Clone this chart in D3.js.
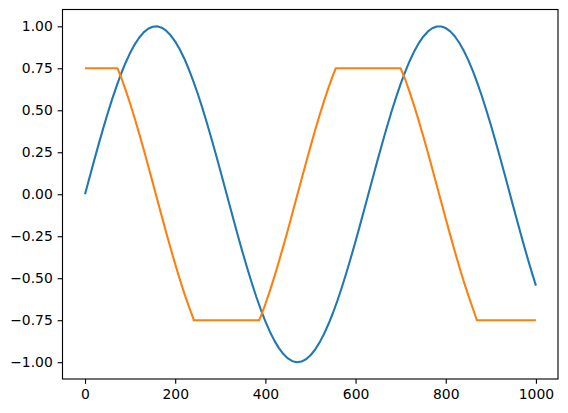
<!DOCTYPE html>
<html>
<head>
<meta charset="utf-8">
<script src="https://cdn.jsdelivr.net/npm/d3@7"></script>
<style>
html,body{margin:0;padding:0;background:#fff;}
svg{display:block;}
text{font-family:"DejaVu Sans",sans-serif;}
</style>
</head>
<body>
<svg id="chart" width="568" height="413"></svg>
<script>
// x positions (step 10) for the blue series
const blueX = d3.range(0, 1001, 10);
// blue series values
const blueValues = [0,0.0998,0.1987,0.2955,0.3894,0.4794,0.5646,0.6442,0.7174,0.7833,
0.8415,0.8912,0.9320,0.9636,0.9854,0.9975,0.9996,0.9917,0.9738,0.9463,
0.9093,0.8632,0.8085,0.7457,0.6755,0.5985,0.5155,0.4274,0.3350,0.2392,
0.1411,0.0416,-0.0584,-0.1577,-0.2555,-0.3508,-0.4425,-0.5298,-0.6119,-0.6878,
-0.7568,-0.8183,-0.8716,-0.9162,-0.9516,-0.9775,-0.9937,-0.9999,-0.9962,-0.9825,
-0.9589,-0.9258,-0.8835,-0.8323,-0.7728,-0.7055,-0.6313,-0.5507,-0.4646,-0.3739,
-0.2794,-0.1822,-0.0831,0.0168,0.1165,0.2151,0.3115,0.4048,0.4941,0.5784,
0.6570,0.7290,0.7937,0.8504,0.8987,0.9380,0.9679,0.9882,0.9985,0.9989,
0.9894,0.9699,0.9407,0.9022,0.8546,0.7985,0.7344,0.6630,0.5849,0.5010,
0.4121,0.3191,0.2229,0.1245,0.0248,-0.0752,-0.1743,-0.2718,-0.3665,-0.4575,
-0.5440];
// orange series: x positions (including the flat-segment corners) and values
const orangeX = [0,72,80,90,100,110,120,130,140,150,160,170,180,190,200,210,220,230,240,241,
386,390,400,410,420,430,440,450,460,470,480,490,500,510,520,530,540,550,556,
700,710,720,730,740,750,760,770,780,790,800,810,820,830,840,850,860,869,1000];
const orangeValues = [0.75,0.75,0.6967,0.6216,0.5403,0.4536,0.3624,0.2675,0.1700,0.0707,
-0.0292,-0.1288,-0.2272,-0.3233,-0.4161,-0.5048,-0.5885,-0.6663,-0.7374,-0.75,
-0.75,-0.7259,-0.6536,-0.5748,-0.4903,-0.4008,-0.3073,-0.2108,-0.1122,-0.0124,
0.0875,0.1865,0.2837,0.3780,0.4685,0.5544,0.6347,0.7087,0.75,
0.75,0.6846,0.6084,0.5261,0.4385,0.3466,0.2513,0.1534,0.0540,-0.0460,
-0.1455,-0.2435,-0.3392,-0.4314,-0.5193,-0.6020,-0.6787,-0.75,-0.75];
const xTicks = [0,200,400,600,800,1000];
const yTicks = [-1.00,-0.75,-0.50,-0.25,0.00,0.25,0.50,0.75,1.00];
const seriesColors = ["#1f77b4","#ff7f0e"];

const svg = d3.select("#chart");
const padL = 62.5, padR = 558, padT = 9.5, padB = 379;
const x = d3.scaleLinear().domain([-49.95, 1048.95]).range([padL, padR]);
const y = d3.scaleLinear().domain([-1.1, 1.1]).range([padB, padT]);

const line = d3.line().x(d => x(d[0])).y(d => y(d[1]));
[[blueX, blueValues], [orangeX, orangeValues]].forEach(([xs, vals], i) => {
  svg.append("path")
    .datum(xs.map((xv, j) => [xv, vals[j]]))
    .attr("d", line)
    .attr("fill", "none")
    .attr("stroke", seriesColors[i])
    .attr("stroke-width", 2.08)
    .attr("stroke-linejoin", "round")
    .attr("stroke-linecap", "butt");
});

const xAxis = d3.axisBottom(x).tickValues(xTicks).tickFormat(d3.format("d")).tickSize(4.86).tickPadding(4.86);
const yAxis = d3.axisLeft(y).tickValues(yTicks).tickFormat(d => d3.format(".2f")(d).replace("-", "\u2212")).tickSize(4.86).tickPadding(4.86);

const gx = svg.append("g").attr("transform", `translate(0,${padB})`).call(xAxis);
const gy = svg.append("g").attr("transform", `translate(${padL},0)`).call(yAxis);
[gx, gy].forEach(g => {
  g.select(".domain").remove();
  g.selectAll(".tick line").attr("stroke", "#000").attr("stroke-width", 1.11);
  g.selectAll(".tick text").attr("fill", "#000").attr("font-size", "13.9px").attr("font-family", "DejaVu Sans");
});

svg.append("rect")
  .attr("x", padL).attr("y", padT)
  .attr("width", padR - padL).attr("height", padB - padT)
  .attr("fill", "none").attr("stroke", "#000").attr("stroke-width", 1.11);
</script>
</body>
</html>
